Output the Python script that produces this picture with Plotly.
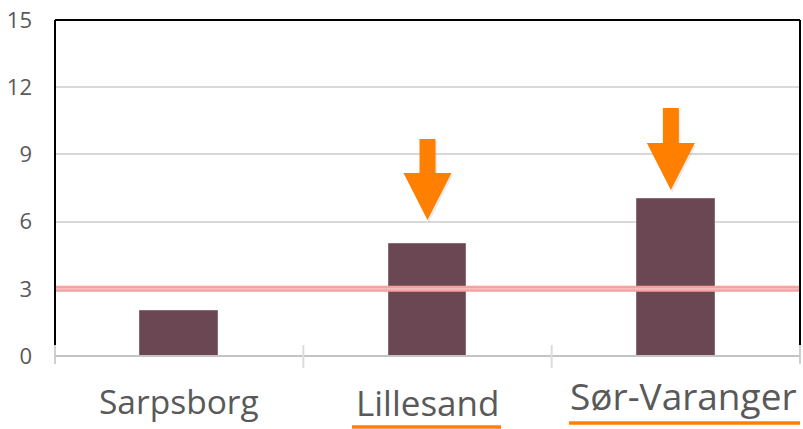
import plotly.graph_objects as go

# ---- data ----
categories = ["Sarpsborg", "Lillesand", "Sør-Varanger"]
values = [2, 5, 7]
reference_value = 3
y_ticks = [0, 3, 6, 9, 12, 15]
# arrows: category index, tip value, tail value
arrow_pos = [1.0, 1.98]
arrow_tip = [6.07, 7.41]
arrow_tail = [9.69, 11.07]
underlined = ["Lillesand", "Sør-Varanger"]

BAR = "#6b4753"
ORANGE = "#ff8000"
TXT = "#595959"

x_idx = list(range(len(categories)))

fig = go.Figure()
fig.add_trace(go.Bar(x=x_idx, y=values, width=0.314, marker=dict(color=BAR, line=dict(color="#8a6a74", width=1)),
                     hoverinfo="skip"))

shapes = []
# reference line (double pink line)
shapes.append(dict(type="line", xref="paper", yref="y", x0=0, x1=1, y0=reference_value, y1=reference_value,
                   line=dict(color="#f6a0a0", width=6), layer="above"))
shapes.append(dict(type="line", xref="paper", yref="y", x0=0, x1=1, y0=reference_value, y1=reference_value,
                   line=dict(color="#f4c6c6", width=1.2), layer="above"))

# arrows
ppu_x = 248.3  # px per category
ppu_y = 22.4   # px per unit
sw = 8 / ppu_x
hw = 24 / ppu_x
hl = 47 / ppu_y
for xc, tip, tail in zip(arrow_pos, arrow_tip, arrow_tail):
    hb = tip + hl
    path = (f"M {xc-sw},{tail} L {xc+sw},{tail} L {xc+sw},{hb} L {xc+hw},{hb} "
            f"L {xc},{tip} L {xc-hw},{hb} L {xc-sw},{hb} Z")
    # soft shadow
    d = 0.006
    spath = (f"M {xc-sw+d},{tail-0.1} L {xc+sw+d},{tail-0.1} L {xc+sw+d},{hb-0.1} L {xc+hw+d},{hb-0.1} "
             f"L {xc+d},{tip-0.12} L {xc-hw+d},{hb-0.1} L {xc-sw+d},{hb-0.1} Z")
    shapes.append(dict(type="path", xref="x", yref="y", path=spath, fillcolor="rgba(0,0,0,0.08)",
                       line=dict(width=0), layer="above"))
    shapes.append(dict(type="path", xref="x", yref="y", path=path, fillcolor=ORANGE,
                       line=dict(width=0), layer="above"))

# frame (black top/left/right) and gray baseline
shapes.append(dict(type="line", xref="paper", yref="paper", x0=0, x1=1, y0=1, y1=1,
                   line=dict(color="black", width=2), layer="above"))
for xp in (0, 1):
    shapes.append(dict(type="line", xref="paper", yref="paper", x0=xp, x1=xp, y0=1, y1=11/336,
                       line=dict(color="black", width=2), layer="above"))
    shapes.append(dict(type="line", xref="paper", yref="paper", x0=xp, x1=xp, y0=11/336, y1=-8/336,
                       line=dict(color="#d0d0d0", width=2), layer="above"))
shapes.append(dict(type="line", xref="paper", yref="paper", x0=0, x1=1, y0=0, y1=0,
                   line=dict(color="#c4c4c4", width=2), layer="above"))
# category boundary ticks
for b in [0.5, 1.5]:
    xp = (b + 0.5) / 3
    shapes.append(dict(type="line", xref="paper", yref="paper", x0=xp, x1=xp, y0=11/336, y1=-12/336,
                       line=dict(color="#dcdcdc", width=2), layer="above"))

# underlines (category-index extents)
ul = {"Lillesand": (0.696, 1.296, -71/336), "Sør-Varanger": (1.57, 2.5, -67/336)}
for name in underlined:
    x0, x1, yp = ul[name]
    shapes.append(dict(type="line", xref="paper", yref="paper", x0=(x0 + 0.5) / 3, x1=(x1 + 0.5) / 3,
                       y0=yp, y1=yp, line=dict(color=ORANGE, width=3.5), layer="above"))

# category labels
lab_font = {"Sarpsborg": 33.5, "Lillesand": 35, "Sør-Varanger": 37}
lab_y = {"Sarpsborg": -45/336, "Lillesand": -46/336, "Sør-Varanger": -39/336}
lab_dx = {"Sarpsborg": 0.0, "Lillesand": 0.0, "Sør-Varanger": 0.03}
annotations = []
for i, c in enumerate(categories):
    annotations.append(dict(x=i + lab_dx[c], y=lab_y[c], xref="x", yref="paper", text=c, showarrow=False,
                            xanchor="center", yanchor="middle",
                            font=dict(family="Open Sans", size=lab_font[c], color=TXT)))

fig.update_layout(
    width=803, height=429,
    margin=dict(l=55, r=3, t=20, b=73, autoexpand=False),
    paper_bgcolor="white", plot_bgcolor="white",
    showlegend=False,
    shapes=shapes, annotations=annotations,
    bargap=0,
    xaxis=dict(range=[-0.5, 2.5], tickvals=x_idx, showticklabels=False, showgrid=False,
               zeroline=False, showline=False, fixedrange=True, automargin=False),
    yaxis=dict(range=[0, 15], tickvals=y_ticks, ticktext=[str(v) for v in y_ticks],
               showgrid=True, gridcolor="#d9d9d9", gridwidth=1.5, zeroline=False, showline=False,
               ticklabelstandoff=22, automargin=False, fixedrange=True,
               tickfont=dict(family="Open Sans", size=22, color=TXT)),
)

fig.write_html("out.html", config={"displayModeBar": False},
               post_script="document.body.style.margin='0';document.body.style.overflow='hidden';")
